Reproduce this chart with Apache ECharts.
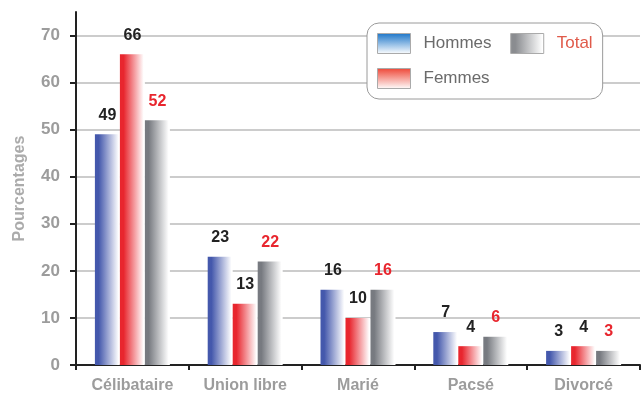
<!DOCTYPE html>
<html>
<head>
<meta charset="utf-8">
<script src="https://cdn.jsdelivr.net/npm/echarts@6/dist/echarts.min.js"></script>
<style>
  html, body { margin: 0; padding: 0; background: #fff; }
  #main { width: 641px; height: 400px; }
</style>
</head>
<body>
<div id="main"></div>
<script>
// catégories et valeurs (en %)
var categories = ['Célibataire', 'Union libre', 'Marié', 'Pacsé', 'Divorcé'];
var hommes = [49, 23, 16, 7, 3];
var femmes = [66, 13, 10, 4, 4];
var total = [52, 22, 16, 6, 3];
var yTicks = [0, 10, 20, 30, 40, 50, 60, 70];

var myChart = echarts.init(document.getElementById('main'));

function hFade(c) {
  return new echarts.graphic.LinearGradient(0, 0, 1, 0, [
    { offset: 0, color: c },
    { offset: 0.15, color: c },
    { offset: 0.95, color: '#ffffff' },
    { offset: 1, color: '#ffffff' }
  ]);
}
function vFade(c) {
  return new echarts.graphic.LinearGradient(0, 0, 0, 1, [
    { offset: 0, color: c },
    { offset: 1, color: '#ffffff' }
  ]);
}

var labelStyle = function (color) {
  return {
    show: true,
    position: 'top',
    distance: 11,
    color: color,
    fontSize: 16,
    fontWeight: 'bold',
    fontFamily: 'Liberation Sans'
  };
};

var option = {
  animation: false,
  textStyle: { fontFamily: 'Liberation Sans' },
  legend: {
    left: 367,
    top: 23,
    width: 238,
    height: 76,
    padding: [10, 10, 10, 10],
    itemWidth: 33,
    itemHeight: 20,
    itemGap: 14,
    backgroundColor: '#fff',
    borderColor: '#9a9a9a',
    borderWidth: 1,
    borderRadius: 12,
    // un peu d'espace après "Hommes" pour décaler "Total"
    formatter: function (name) { return name === 'Hommes' ? name + ' ' : name; },
    textStyle: { fontSize: 17, color: '#6b6b6b', padding: [0, 0, 0, 8] },
    data: [
      { name: 'Hommes', icon: 'rect', itemStyle: { color: vFade('#1a74c8'), borderColor: '#aaa', borderWidth: 1 } },
      { name: 'Total', icon: 'rect', textStyle: { color: '#e05a4a' }, itemStyle: { color: hFade('#8a8c90'), borderColor: '#aaa', borderWidth: 1 } },
      { name: 'Femmes', icon: 'rect', itemStyle: { color: vFade('#ee4535'), borderColor: '#aaa', borderWidth: 1 } }
    ]
  },
  grid: { left: 76, right: 1, top: 12, bottom: 35 },
  xAxis: {
    type: 'category',
    data: categories,
    axisLine: { lineStyle: { color: '#222', width: 2 } },
    axisTick: { show: true, length: 5, lineStyle: { color: '#222', width: 2 } },
    axisLabel: { interval: 0, color: '#9c9c9c', fontSize: 16, fontWeight: 'bold', margin: 13 }
  },
  yAxis: {
    type: 'value',
    min: 0,
    max: 75,
    interval: 10,
    name: 'Pourcentages',
    nameLocation: 'middle',
    nameGap: 48,
    nameTextStyle: { color: '#ababab', fontSize: 16, fontWeight: 'bold' },
    axisLine: { show: true, lineStyle: { color: '#222', width: 2 } },
    axisTick: { show: true, length: 6, lineStyle: { color: '#222', width: 2 } },
    axisLabel: {
      color: '#9c9c9c', fontSize: 17, fontWeight: 'bold', margin: 16,
      showMaxLabel: false,
      formatter: function (v) { return yTicks.indexOf(v) >= 0 ? v : ''; }
    },
    splitLine: { show: true, showMaxLine: false, lineStyle: { color: '#cccccc', width: 2 } }
  },
  series: [
    {
      name: 'Hommes', type: 'bar', data: hommes,
      barWidth: 25, barGap: '0%',
      itemStyle: { color: hFade('#4458ac') },
      label: labelStyle('#222')
    },
    {
      name: 'Femmes', type: 'bar', data: femmes,
      barWidth: 25, barGap: '0%',
      itemStyle: { color: hFade('#e8262e') },
      label: labelStyle('#222')
    },
    {
      name: 'Total', type: 'bar', data: total,
      barWidth: 25, barGap: '0%',
      itemStyle: { color: hFade('#777a80') },
      label: labelStyle('#e8262e')
    }
  ]
};

myChart.setOption(option);
</script>
</body>
</html>
